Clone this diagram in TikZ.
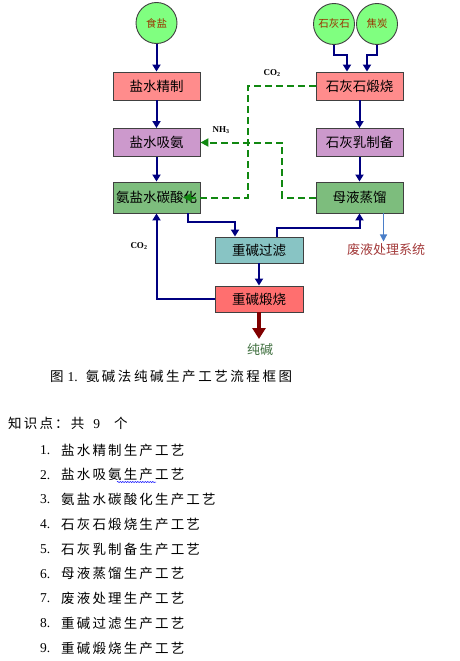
\documentclass[tikz,border=0pt]{standalone}
\usepackage{fontspec}
\usetikzlibrary{arrows.meta,decorations.pathmorphing}
\newfontfamily\cjk{Noto Sans CJK SC}
\newfontfamily\cjksp[LetterSpace=16]{Noto Sans CJK SC}
\newfontfamily\serif{Liberation Serif}
\definecolor{pinkbox}{HTML}{FF8C8C}
\definecolor{redbox}{HTML}{FF6F6F}
\definecolor{purplebox}{HTML}{CC99CC}
\definecolor{greenbox}{HTML}{7DBD7D}
\definecolor{tealbox}{HTML}{88C4C4}
\definecolor{circfill}{HTML}{80FF80}
\definecolor{circtext}{HTML}{993300}
\definecolor{navyline}{HTML}{000080}
\definecolor{greenline}{HTML}{118811}
\definecolor{wastetext}{HTML}{A33A3A}
\definecolor{sodatext}{HTML}{3F6F3F}
\definecolor{lightblue}{HTML}{4A7EC8}
\definecolor{darkredline}{HTML}{800000}
\definecolor{boxborder}{HTML}{404040}
\tikzset{
  procbox/.style={draw=boxborder, line width=0.9pt, minimum width=87pt, minimum height=28pt, inner sep=0pt, font=\cjk\fontsize{13.5}{14}\selectfont},
  rawcirc/.style={circle, draw=boxborder, line width=0.9pt, fill=circfill, minimum size=41pt, inner sep=0pt, text=circtext, font=\cjk\fontsize{10.5}{11}\selectfont},
  navarrow/.style={draw=navyline, line width=2pt, -{Triangle[length=7pt,width=8pt]}},
  greenarrow/.style={draw=greenline, line width=2pt, dash pattern=on 7pt off 4pt, -{Triangle[length=8pt,width=8pt]}},
  gaslabel/.style={font=\serif\bfseries\fontsize{9}{10}\selectfont, inner sep=0pt},
  listtext/.style={anchor=west, inner sep=0pt, font=\cjksp\fontsize{13.5}{14}\selectfont},
  listnum/.style={anchor=west, inner sep=0pt, font=\serif\fontsize{13.5}{14}\selectfont}
}
\begin{document}
\begin{tikzpicture}[x=1pt,y=-1pt]
\useasboundingbox (0,0) rectangle (459,661);
% raw material circles
\node[rawcirc] (salt) at (156.5,23) {食盐};
\node[rawcirc] (lime) at (334,24) {石灰石};
\node[rawcirc] (coke) at (377,24) {焦炭};
% process boxes
\node[procbox, fill=pinkbox] (jz) at (156.5,86) {盐水精制};
\node[procbox, fill=purplebox] (xa) at (156.5,142.5) {盐水吸氨};
\node[procbox, fill=greenbox, minimum height=31pt] (th) at (156.5,197.5) {氨盐水碳酸化};
\node[procbox, fill=pinkbox] (sd) at (359.5,86) {石灰石煅烧};
\node[procbox, fill=purplebox] (sr) at (359.5,142.5) {石灰乳制备};
\node[procbox, fill=greenbox, minimum height=31pt] (mz) at (359.5,197.5) {母液蒸馏};
\node[procbox, fill=tealbox, minimum width=88pt, minimum height=26pt] (gl) at (259,250) {重碱过滤};
\node[procbox, fill=redbox, minimum width=88pt, minimum height=26pt] (ds) at (259,299) {重碱煅烧};
% outputs
\node[inner sep=0pt, text=wastetext, font=\cjk\fontsize{13}{14}\selectfont] (waste) at (386,250) {废液处理系统};
\node[inner sep=0pt, text=sodatext, font=\cjk\fontsize{13}{14}\selectfont] (soda) at (260,350) {纯碱};
\coordinate (sodatip) at (259,339);
\coordinate (co2turn) at (248,197.5);
\coordinate (co2tip) at (183,197.5);
\coordinate (nh3turn) at (282,197.5);
% navy connectors
\draw[navarrow] (salt) -- (jz);
\draw[navarrow] (jz) -- (xa);
\draw[navarrow] (xa) -- (th);
\draw[navarrow] (lime.south) -- ++(0,10) -| ([xshift=-12.5pt]sd.north);
\draw[navarrow] (coke.south) -- ++(0,10) -| ([xshift=7.5pt]sd.north);
\draw[navarrow] (sd) -- (sr);
\draw[navarrow] (sr) -- (mz);
\draw[navarrow] ([xshift=31pt]th.south) -- ++(0,9) -| ([xshift=-24pt]gl.north);
\draw[navarrow] ([xshift=18pt]gl.north) -- ++(0,-9) -| (mz.south);
\draw[navarrow] (gl) -- (ds);
\draw[navarrow] (ds.west) -| (th.south);
\draw[draw=darkredline, line width=3.5pt, -{Triangle[length=11pt,width=13pt]}] (ds.south) -- (sodatip);
\draw[draw=lightblue, line width=1.3pt, -{Triangle[length=7pt,width=7pt]}] ([xshift=24pt]mz.south) -- ++(0,28);
% green dashed gas lines
\draw[greenarrow] (sd.west) -| (co2turn) -- (co2tip);
\draw[greenarrow] (mz.west) -- (nh3turn) |- (xa.east);
% gas labels
\node[gaslabel] (lco2a) at (272,73) {CO\textsubscript{2}};
\node[gaslabel] (lnh3) at (221,130) {NH\textsubscript{3}};
\node[gaslabel] (lco2b) at (139,246) {CO\textsubscript{2}};
% caption
\node[anchor=west, inner sep=0pt] (cap) at (50,376) {{\cjksp\fontsize{13.5}{14}\selectfont 图}\hspace{4pt}{\serif\fontsize{13.5}{14}\selectfont 1.}\hspace{8pt}{\cjk\addfontfeature{LetterSpace=19}\fontsize{13.5}{14}\selectfont 氨碱法纯碱生产工艺流程框图}};
% knowledge list
\node[anchor=west, inner sep=0pt] (head) at (8,423) {{\cjksp\fontsize{13.5}{14}\selectfont 知识点：共}\hspace{9pt}{\serif\fontsize{13.5}{14}\selectfont 9}\hspace{14pt}{\cjksp\fontsize{13.5}{14}\selectfont 个}};
\foreach \i/\t in {1/盐水精制生产工艺,2/盐水吸氨生产工艺,3/氨盐水碳酸化生产工艺,4/石灰石煅烧生产工艺,5/石灰乳制备生产工艺,6/母液蒸馏生产工艺,7/废液处理生产工艺,8/重碱过滤生产工艺,9/重碱煅烧生产工艺}{
  \node[listnum] (n\i) at (40,{450+(\i-1)*24.75}) {\i.};
  \node[listtext] (t\i) at (61,{450+(\i-1)*24.75}) {\t};
}
\draw[blue, line width=0.5pt, decorate, decoration={snake, amplitude=0.6pt, segment length=2.5pt}] (117,482) -- (156,482);
\end{tikzpicture}
\end{document}
